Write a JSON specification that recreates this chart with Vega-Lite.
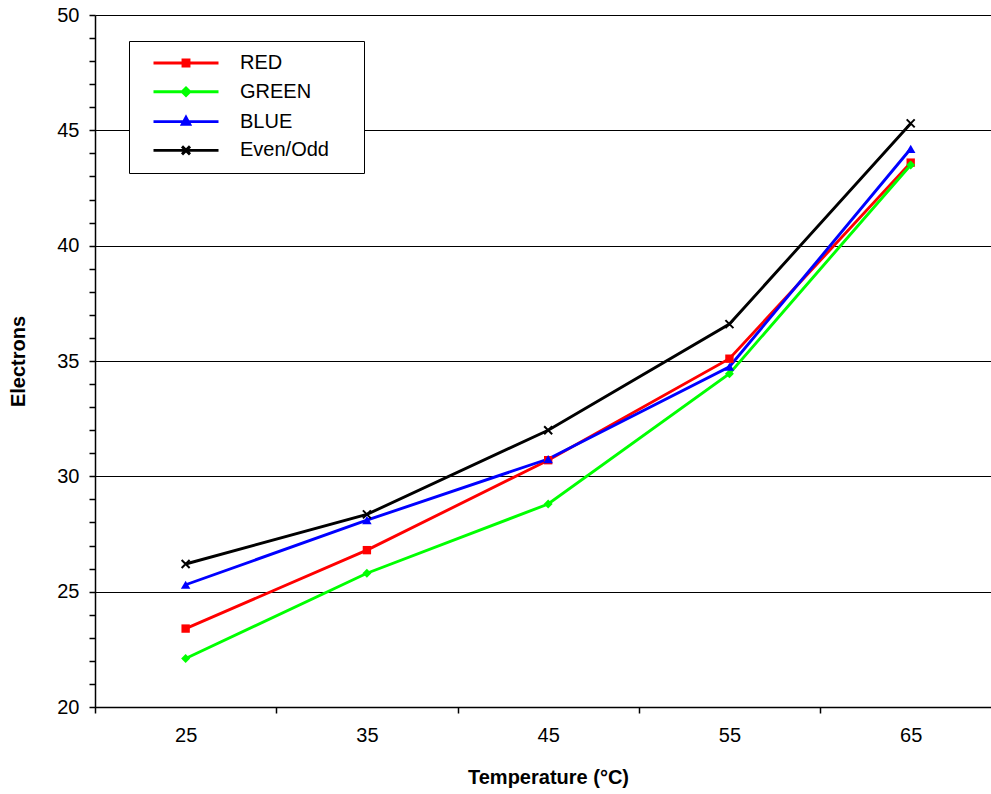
{
  "$schema": "https://vega.github.io/schema/vega-lite/v6.json",
  "autosize": {"type": "none"},
  "padding": {"left": 95, "top": 15, "right": 0, "bottom": 87},
  "width": 896,
  "height": 692,
  "background": "white",
  "config": {
    "view": {"stroke": null},
    "font": "Liberation Sans",
    "axis": {
      "domainColor": "black",
      "domainWidth": 1.5,
      "tickColor": "black",
      "tickWidth": 1.5,
      "labelColor": "black",
      "labelFont": "Liberation Sans",
      "labelFontSize": 20,
      "titleFont": "Liberation Sans",
      "titleFontSize": 20,
      "titleFontWeight": "bold",
      "titleColor": "black",
      "labelOverlap": false,
      "labelFlush": false
    }
  },
  "data": {
    "values": [
      {"t": 25, "series": "RED", "e": 23.4},
      {"t": 35, "series": "RED", "e": 26.8},
      {"t": 45, "series": "RED", "e": 30.7},
      {"t": 55, "series": "RED", "e": 35.1},
      {"t": 65, "series": "RED", "e": 43.6},
      {"t": 25, "series": "GREEN", "e": 22.1},
      {"t": 35, "series": "GREEN", "e": 25.8},
      {"t": 45, "series": "GREEN", "e": 28.8},
      {"t": 55, "series": "GREEN", "e": 34.45},
      {"t": 65, "series": "GREEN", "e": 43.5},
      {"t": 25, "series": "BLUE", "e": 25.3},
      {"t": 35, "series": "BLUE", "e": 28.1},
      {"t": 45, "series": "BLUE", "e": 30.75},
      {"t": 55, "series": "BLUE", "e": 34.75},
      {"t": 65, "series": "BLUE", "e": 44.2},
      {"t": 25, "series": "Even/Odd", "e": 26.2},
      {"t": 35, "series": "Even/Odd", "e": 28.35},
      {"t": 45, "series": "Even/Odd", "e": 32.0},
      {"t": 55, "series": "Even/Odd", "e": 36.6},
      {"t": 65, "series": "Even/Odd", "e": 45.3}
    ]
  },
  "encoding": {
    "x": {
      "field": "t",
      "type": "quantitative",
      "scale": {"domain": [20, 69.43], "nice": false, "zero": false},
      "axis": {
        "title": "Temperature (°C)",
        "values": [20, 25, 30, 35, 40, 45, 50, 55, 60, 65],
        "labelExpr": "datum.value % 10 === 5 ? datum.label : ''",
        "tickColor": {"condition": {"test": "datum.value % 10 === 0", "value": "black"}, "value": "transparent"},
        "tickSize": 6,
        "labelPadding": 12,
        "grid": false,
        "titlePadding": 22,
        "titleX": 453
      }
    },
    "y": {
      "field": "e",
      "type": "quantitative",
      "scale": {"domain": [20, 50], "nice": false, "zero": false},
      "axis": {
        "title": "Electrons",
        "values": [20,21,22,23,24,25,26,27,28,29,30,31,32,33,34,35,36,37,38,39,40,41,42,43,44,45,46,47,48,49,50],
        "labelExpr": "datum.value % 5 === 0 ? datum.label : ''",
        "grid": true,
        "gridColor": {"condition": {"test": "datum.value % 5 === 0", "value": "black"}, "value": "transparent"},
        "gridWidth": 1,
        "tickSize": 6,
        "labelPadding": 10,
        "titlePadding": 28
      }
    }
  },
  "layer": [
    {
      "mark": {"type": "line", "strokeWidth": 2.9},
      "encoding": {
        "color": {
          "field": "series",
          "type": "nominal",
          "scale": {"domain": ["RED", "GREEN", "BLUE", "Even/Odd"], "range": ["#ff0000", "#00ff00", "#0000ff", "#000000"]},
          "legend": {
            "title": null,
            "orient": "none",
            "legendX": 34,
            "legendY": 26,
            "direction": "vertical",
            "padding": 12,
            "strokeColor": "black",
            "fillColor": "white",
            "labelFont": "Liberation Sans",
            "labelFontSize": 20,
            "labelColor": "black",
            "symbolSize": 100,
            "symbolOffset": 35,
            "labelOffset": 44,
            "rowPadding": 8.8,
            "labelExpr": "datum.label + '\u00a0\u00a0\u00a0\u00a0\u200b'",
            "encode": {
              "symbols": {
                "update": {
                  "shape": {"signal": "datum.value === 'RED' ? 'M-6.5,0H6.5M-0.6,-0.6H0.6V0.6H-0.6Z' : datum.value === 'GREEN' ? 'M-6.5,0H6.5M0,-0.75L0.75,0L0,0.75L-0.75,0Z' : datum.value === 'BLUE' ? 'M-6.5,0H6.5M0,-0.85L0.75,0.55L-0.75,0.55Z' : 'M-6.5,0H6.5M-0.8,-0.8L0.8,0.8M-0.8,0.8L0.8,-0.8'"},
                  "fill": {"scale": "color", "field": "value"},
                  "stroke": {"scale": "color", "field": "value"},
                  "strokeWidth": {"value": 2.9},
                  "opacity": {"value": 1}
                }
              }
            }
          }
        }
      }
    },
    {
      "transform": [{"filter": "datum.series === 'RED'"}],
      "mark": {"type": "point", "shape": "square", "filled": true, "size": 70, "color": "#ff0000", "opacity": 1}
    },
    {
      "transform": [{"filter": "datum.series === 'GREEN'"}],
      "mark": {"type": "point", "shape": "diamond", "filled": true, "size": 80, "color": "#00ff00", "opacity": 1}
    },
    {
      "transform": [{"filter": "datum.series === 'BLUE'"}],
      "mark": {"type": "point", "shape": "triangle-up", "filled": true, "size": 90, "color": "#0000ff", "opacity": 1}
    },
    {
      "transform": [{"filter": "datum.series === 'Even/Odd'"}],
      "mark": {"type": "point", "shape": "M-1,-1L1,1M-1,1L1,-1", "filled": false, "size": 64, "stroke": "#000000", "strokeWidth": 2, "opacity": 1}
    }
  ]
}
